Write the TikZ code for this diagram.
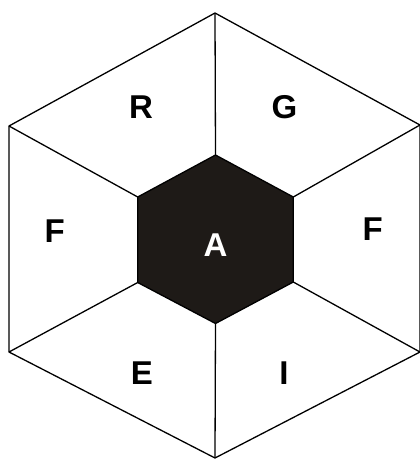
\documentclass[tikz,border=0pt]{standalone}
\usepackage{fontspec}
\setmainfont{Liberation Sans}
\definecolor{hexfill}{HTML}{1E1A17}
\begin{document}
\begin{tikzpicture}[x=1pt,y=-1pt,
  edge/.style={draw=black,line width=1.3pt,line join=miter},
  lbl/.style={font=\fontsize{33}{33}\selectfont\bfseries,inner sep=0pt,anchor=center}]
\useasboundingbox (0,0) rectangle (420,459);
% outer vertices
\coordinate (o1) at (215,13);
\coordinate (o2) at (420,125);
\coordinate (o3) at (420,352);
\coordinate (o4) at (215,458);
\coordinate (o5) at (9,352);
\coordinate (o6) at (9,126);
% inner vertices
\coordinate (i1) at (215.5,155);
\coordinate (i2) at (293.3,197);
\coordinate (i3) at (293.3,282);
\coordinate (i4) at (215.5,323.5);
\coordinate (i5) at (137.7,282.5);
\coordinate (i6) at (137.7,197);
\draw[edge] (o1) -- (o2) -- (o3) -- (o4) -- (o5) -- (o6) -- cycle;
\foreach \k in {1,...,6} {\draw[edge] (i\k) -- (o\k);}
\draw[edge,fill=hexfill] (i1) -- (i2) -- (i3) -- (i4) -- (i5) -- (i6) -- cycle;
\node[lbl] (R) at (141,107) {R};
\node[lbl] (G) at (284.5,107) {G};
\node[lbl] (F1) at (54.7,231) {F};
\node[lbl] (F2) at (372.7,229) {F};
\node[lbl,text=white] (A) at (215.5,245) {A};
\node[lbl] (E) at (142,373.5) {E};
\node[lbl] (I) at (284,373.5) {I};
\end{tikzpicture}
\end{document}
